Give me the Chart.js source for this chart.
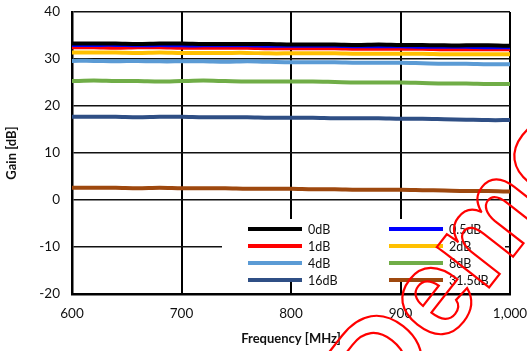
<!DOCTYPE html>
<html>
<head>
<meta charset="utf-8">
<script src="https://cdn.jsdelivr.net/npm/chart.js@4"></script>
<style>
  html, body { margin: 0; padding: 0; background: #fff; }
  #wrap { width: 527px; height: 351px; }
</style>
</head>
<body>
<div id="wrap"><canvas id="gainChart" width="527" height="351"></canvas></div>
<script>
// frequency points (MHz)
const freqs = [600, 620, 640, 660, 680, 700, 720, 740, 760, 780, 800, 820, 840, 860, 880, 900, 920, 940, 960, 980, 1000];

const labels = ['0dB', '0.5dB', '1dB', '2dB', '4dB', '8dB', '16dB', '31.5dB'];
const colors = ['#000000', '#0000ff', '#ff0000', '#ffc000', '#5b9bd5', '#70ad47', '#2f4f85', '#9e480e'];

// gain values (dB)
const gain0 = [33.3, 33.3, 33.3, 33.2, 33.3, 33.3, 33.2, 33.2, 33.2, 33.2, 33.1, 33.1, 33.1, 33.0, 33.1, 33.0, 33.0, 32.9, 32.9, 32.9, 32.8];
const gain05 = [33.0, 33.0, 33.0, 32.9, 33.0, 32.9, 32.9, 32.9, 32.9, 32.8, 32.8, 32.8, 32.8, 32.7, 32.7, 32.7, 32.6, 32.6, 32.6, 32.5, 32.5];
const gain1 = [32.5, 32.5, 32.4, 32.5, 32.5, 32.4, 32.4, 32.4, 32.4, 32.3, 32.3, 32.3, 32.3, 32.2, 32.2, 32.2, 32.2, 32.1, 32.1, 32.1, 32.1];
const gain2 = [31.4, 31.4, 31.4, 31.3, 31.4, 31.3, 31.3, 31.3, 31.3, 31.2, 31.2, 31.2, 31.2, 31.1, 31.1, 31.1, 31.1, 31.0, 31.0, 31.0, 31.0];
const gain4 = [29.6, 29.6, 29.5, 29.6, 29.5, 29.5, 29.5, 29.4, 29.5, 29.4, 29.3, 29.3, 29.3, 29.2, 29.2, 29.2, 29.1, 29.0, 29.0, 28.9, 28.9];
const gain8 = [25.3, 25.4, 25.3, 25.3, 25.2, 25.3, 25.4, 25.3, 25.2, 25.2, 25.2, 25.2, 25.1, 25.0, 25.0, 25.0, 24.9, 24.8, 24.8, 24.7, 24.7];
const gain16 = [17.7, 17.7, 17.7, 17.6, 17.7, 17.7, 17.6, 17.6, 17.6, 17.5, 17.5, 17.5, 17.4, 17.4, 17.4, 17.3, 17.3, 17.2, 17.1, 17.0, 17.0];
const gain315 = [2.6, 2.6, 2.6, 2.5, 2.6, 2.5, 2.5, 2.5, 2.4, 2.4, 2.4, 2.3, 2.3, 2.2, 2.2, 2.2, 2.1, 2.0, 1.9, 1.9, 1.8];

const series = [gain0, gain05, gain1, gain2, gain4, gain8, gain16, gain315];

const xTicks = [600, 700, 800, 900, 1000];
const yTicks = [-20, -10, 0, 10, 20, 30, 40];

const datasets = series.map((vals, i) => ({
  label: labels[i],
  data: vals.map((v, j) => ({ x: freqs[j], y: v })),
  borderColor: colors[i],
  backgroundColor: colors[i],
  borderWidth: 4,
  pointRadius: 0,
  tension: 0.3
}));

// legend drawn inside the plot area, two columns, white box over the grid
const insideLegend = {
  id: 'insideLegend',
  afterDatasetsDraw(chart) {
    const ctx = chart.ctx;
    const area = chart.chartArea;
    ctx.save();
    ctx.fillStyle = '#fff';
    ctx.fillRect(area.left + 150, area.bottom - 75, 283, 63);
    ctx.font = '12.5px Lato, "Liberation Sans", sans-serif';
    ctx.textBaseline = 'middle';
    ctx.textAlign = 'left';
    chart.data.datasets.forEach((ds, i) => {
      const col = i % 2;
      const row = Math.floor(i / 2);
      const x0 = area.left + 176 + col * 141;
      const y = area.bottom - 65 + row * 17;
      ctx.strokeStyle = ds.borderColor;
      ctx.lineWidth = 4;
      ctx.beginPath();
      ctx.moveTo(x0, y);
      ctx.lineTo(x0 + 54, y);
      ctx.stroke();
      ctx.fillStyle = '#111';
      ctx.fillText(ds.label, x0 + 60, y + 1);
    });
    ctx.restore();
  }
};

// red outlined watermark
const watermark = {
  id: 'watermark',
  afterDraw(chart) {
    const ctx = chart.ctx;
    ctx.save();
    ctx.translate(465, 262);
    ctx.rotate(-52 * Math.PI / 180);
    ctx.font = 'bold 125px "Liberation Sans", Arial, sans-serif';
    ctx.textAlign = 'center';
    ctx.textBaseline = 'middle';
    ctx.strokeStyle = '#ff0000';
    ctx.lineWidth = 2.2;
    ctx.strokeText('Demo', 0, 0);
    ctx.restore();
  }
};

const noEdgePadding = axis => {
  axis.paddingLeft = 0;
  axis.paddingRight = 0;
  axis.paddingTop = 0;
  axis.paddingBottom = 0;
};

new Chart(document.getElementById('gainChart'), {
  type: 'line',
  data: { datasets: datasets },
  options: {
    responsive: false,
    animation: false,
    layout: { padding: { left: 0, right: 17, top: 12, bottom: 0 } },
    plugins: {
      legend: { display: false },
      tooltip: { enabled: false }
    },
    scales: {
      x: {
        type: 'linear',
        min: 600,
        max: 1000,
        afterBuildTicks: axis => { axis.ticks = xTicks.map(v => ({ value: v })); },
        afterFit: axis => { axis.height = 57; noEdgePadding(axis); },
        grid: { color: '#000', lineWidth: 2, drawTicks: false },
        border: { color: '#000', width: 2.5 },
        ticks: { color: '#111', padding: 12, font: { family: 'Lato, "Liberation Sans", sans-serif', size: 13.5 } },
        title: {
          display: true,
          text: 'Frequency [MHz]',
          color: '#111',
          padding: { top: 6 },
          font: { family: 'Lato, "Liberation Sans", sans-serif', size: 13, weight: 'bold' }
        }
      },
      y: {
        min: -20,
        max: 40,
        afterBuildTicks: axis => { axis.ticks = yTicks.map(v => ({ value: v })); },
        afterFit: axis => { axis.width = 72; noEdgePadding(axis); },
        grid: { color: '#111', lineWidth: 1.5, drawTicks: false },
        border: { color: '#000', width: 2.5 },
        ticks: { color: '#111', padding: 12, font: { family: 'Lato, "Liberation Sans", sans-serif', size: 13.5 } },
        title: {
          display: true,
          text: 'Gain [dB]',
          color: '#111',
          padding: { bottom: 4 },
          font: { family: 'Lato, "Liberation Sans", sans-serif', size: 13, weight: 'bold' }
        }
      }
    }
  },
  plugins: [insideLegend, watermark]
});
</script>
</body>
</html>
